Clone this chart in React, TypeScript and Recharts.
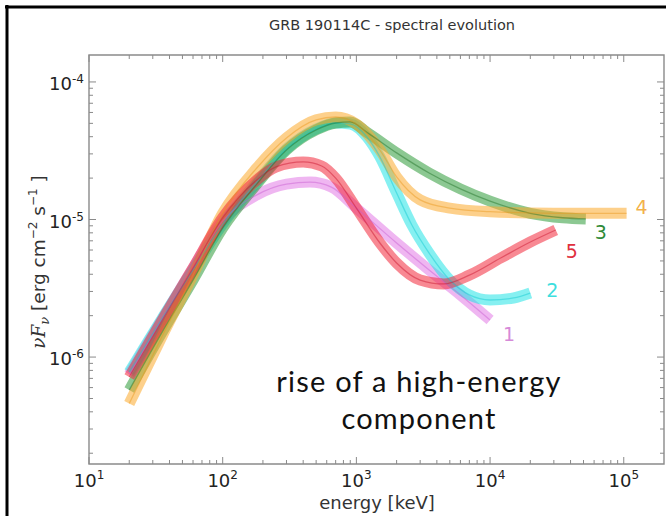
import { LineChart, Line, XAxis, YAxis, ReferenceArea } from "recharts";

// energy [keV] and nuFnu [erg cm^-2 s^-1], one pair of arrays per interval
const energy1 = [20, 35, 60, 100, 180, 300, 450, 650, 1000, 2000, 3500, 6000, 10000];
const flux1 = [7.5e-7, 1.86e-6, 4.43e-6, 9.75e-6, 1.51e-5, 1.81e-5, 1.87e-5, 1.72e-5, 1.21e-5, 6.75e-6, 4.3e-6, 2.83e-6, 1.86e-6];

const energy2 = [20, 35, 60, 100, 180, 300, 500, 700, 900, 1200, 1500, 2000, 2600, 3500, 5000, 7000, 10000, 15000, 20000];
const flux2 = [7.78e-7, 1.89e-6, 4.3e-6, 9.27e-6, 1.87e-5, 3.26e-5, 4.55e-5, 5.03e-5, 4.95e-5, 3.98e-5, 2.85e-5, 1.56e-5, 9.12e-6, 5.7e-6, 3.63e-6, 2.83e-6, 2.6e-6, 2.69e-6, 2.92e-6];

const energy3 = [20, 35, 60, 100, 180, 300, 500, 700, 900, 1200, 2000, 3500, 6000, 10000, 20000, 35000, 52000];
const flux3 = [5.76e-7, 1.5e-6, 3.63e-6, 8.68e-6, 1.81e-5, 3.2e-5, 4.48e-5, 5.03e-5, 5.12e-5, 4.3e-5, 3.05e-5, 2.18e-5, 1.67e-5, 1.36e-5, 1.11e-5, 1.03e-5, 1.01e-5];

const energy4 = [20, 35, 60, 100, 180, 300, 500, 700, 1000, 1500, 2000, 3000, 5000, 10000, 30000, 105000];
const flux4 = [4.6e-7, 1.4e-6, 3.94e-6, 1.11e-5, 2.37e-5, 3.92e-5, 5.3e-5, 5.56e-5, 4.95e-5, 3.2e-5, 2.04e-5, 1.39e-5, 1.21e-5, 1.14e-5, 1.11e-5, 1.11e-5];

const energy5 = [20, 35, 60, 100, 180, 250, 400, 550, 700, 1000, 1500, 2000, 3000, 4500, 7000, 12000, 20000, 31000];
const flux5 = [7.16e-7, 1.83e-6, 4.43e-6, 1.03e-5, 1.94e-5, 2.41e-5, 2.62e-5, 2.45e-5, 2.0e-5, 1.21e-5, 6.75e-6, 4.83e-6, 3.63e-6, 3.4e-6, 3.94e-6, 5.25e-6, 6.86e-6, 8.39e-6];

const xMajor = [10, 100, 1000, 10000, 100000];
const xExp = ["1", "2", "3", "4", "5"];
const yMajor = [1e-6, 1e-5, 1e-4];
const yExp = ["-6", "-5", "-4"];

const X_DOMAIN = [10, 200000];
const Y_DOMAIN = [1.67e-7, 1.57e-4];

// plot box in page pixels (used for the inward ticks on all four sides)
const PT = 55;
const PB = 464;
const PL = 89;
const PR = 664;

const zip = (e: number[], f: number[]) => e.map((v, i) => ({ e: v, f: f[i] }));

const minors = (majors: number[], lo: number, hi: number) => {
  const out: number[] = [];
  majors.concat([majors[0] / 10]).forEach((m) => {
    for (let k = 2; k <= 9; k++) {
      const v = m * k;
      if (v > lo && v < hi) out.push(v);
    }
  });
  return out;
};

const xTicks = [...xMajor, ...minors(xMajor, X_DOMAIN[0], X_DOMAIN[1])].sort((a, b) => a - b);
const yTicks = [...yMajor, ...minors(yMajor, Y_DOMAIN[0], Y_DOMAIN[1])].sort((a, b) => a - b);

const series = [
  { name: "1", data: zip(energy1, flux1), band: "#e27ae6", core: "#c85ad0", text: "#d68ad8", dx: 19, dy: 21 },
  { name: "2", data: zip(energy2, flux2), band: "#22e4e6", core: "#10c8d0", text: "#3edede", dx: 22, dy: 4 },
  { name: "3", data: zip(energy3, flux3), band: "#2e9a38", core: "#1c6e24", text: "#2f8a38", dx: 15, dy: 20 },
  { name: "4", data: zip(energy4, flux4), band: "#fbaa2c", core: "#e8961a", text: "#f2b24a", dx: 15, dy: 1 },
  { name: "5", data: zip(energy5, flux5), band: "#f2283a", core: "#c8102a", text: "#e0303e", dx: 16, dy: 28 },
];

const FONT = "'DejaVu Sans', sans-serif";

const XTick = ({ x, payload }: any) => {
  const i = xMajor.indexOf(payload.value);
  const len = i >= 0 ? 7 : 4;
  return (
    <g>
      <line x1={x} x2={x} y1={PB} y2={PB - len} stroke="#8a8a8a" />
      <line x1={x} x2={x} y1={PT} y2={PT + len} stroke="#8a8a8a" />
      {i >= 0 && (
        <text x={x} y={487} textAnchor="middle" fontFamily={FONT} fontSize={18} fill="#222">
          10
          <tspan dy={-8} fontSize={12}>
            {xExp[i]}
          </tspan>
        </text>
      )}
    </g>
  );
};

const YTick = ({ y, payload }: any) => {
  const i = yMajor.indexOf(payload.value);
  const len = i >= 0 ? 7 : 4;
  return (
    <g>
      <line x1={PL} x2={PL + len} y1={y} y2={y} stroke="#8a8a8a" />
      <line x1={PR} x2={PR - len} y1={y} y2={y} stroke="#8a8a8a" />
      {i >= 0 && (
        <text x={72} y={y + 8} textAnchor="end" fontFamily={FONT} fontSize={18} fill="#222">
          10
        </text>
      )}
      {i >= 0 && (
        <text x={72} y={y + 1} textAnchor="start" fontFamily={FONT} fontSize={12} fill="#222">
          {yExp[i]}
        </text>
      )}
    </g>
  );
};

const endLabel = (s: (typeof series)[number]) => (props: any) => {
  if (props.index !== s.data.length - 1) return <g />;
  return (
    <text x={props.x + s.dx} y={props.y + s.dy} fontFamily={FONT} fontSize={19} fill={s.text} textAnchor="middle">
      {s.name}
    </text>
  );
};

export default function App() {
  return (
    <div style={{ position: "absolute", left: 0, top: 0, width: 666, height: 516, background: "#fff" }}>
      <LineChart width={666} height={516} margin={{ top: PT, right: 666 - PR, bottom: 516 - PB - 40, left: PL - 60 }}>
        <XAxis
          dataKey="e"
          type="number"
          scale="log"
          domain={X_DOMAIN}
          allowDataOverflow
          ticks={xTicks}
          interval={0}
          axisLine={false}
          tickLine={false}
          tick={<XTick />}
          height={40}
        />
        <YAxis
          dataKey="f"
          type="number"
          scale="log"
          domain={Y_DOMAIN}
          allowDataOverflow
          ticks={yTicks}
          interval={0}
          axisLine={false}
          tickLine={false}
          tick={<YTick />}
          width={60}
        />
        <ReferenceArea x1={X_DOMAIN[0]} x2={X_DOMAIN[1]} y1={Y_DOMAIN[0]} y2={Y_DOMAIN[1]} fill="none" stroke="#8a8a8a" strokeWidth={1.4} ifOverflow="visible" />
        {series.map((s) => (
          <Line
            key={"b" + s.name}
            data={s.data}
            dataKey="f"
            type="monotone"
            stroke={s.band}
            strokeOpacity={0.55}
            strokeWidth={11}
            dot={false}
            activeDot={false}
            isAnimationActive={false}
            label={endLabel(s)}
          />
        ))}
        {series.map((s) => (
          <Line
            key={"c" + s.name}
            data={s.data}
            dataKey="f"
            type="monotone"
            stroke={s.core}
            strokeOpacity={0.45}
            strokeWidth={1.3}
            dot={false}
            activeDot={false}
            isAnimationActive={false}
          />
        ))}
        <text x={392} y={30} textAnchor="middle" fontFamily={FONT} fontSize={14.5} fill="#333">
          GRB 190114C - spectral evolution
        </text>
        <text x={377} y={509} textAnchor="middle" fontFamily={FONT} fontSize={18} fill="#333">
          energy [keV]
        </text>
        <text x={45} y={262} transform="rotate(-90 45 262)" textAnchor="middle" fontFamily={FONT} fontSize={18.5} fill="#333">
          <tspan fontStyle="italic" fontFamily="'DejaVu Serif', serif">νF</tspan>
          <tspan fontStyle="italic" fontFamily="'DejaVu Serif', serif" fontSize={13} dy={4}>ν</tspan>
          <tspan dy={-4}> [erg cm</tspan>
          <tspan fontSize={12} dy={-8}>−2</tspan>
          <tspan dy={8}> s</tspan>
          <tspan fontSize={12} dy={-8}>−1</tspan>
          <tspan dy={8}> ]</tspan>
        </text>
        <text x={419} y={392} textAnchor="middle" fontFamily="Lato, 'Open Sans', sans-serif" fontSize={29} letterSpacing={1.2} fill="#111">
          rise of a high-energy
        </text>
        <text x={419} y={429} textAnchor="middle" fontFamily="Lato, 'Open Sans', sans-serif" fontSize={29} letterSpacing={1.2} fill="#111">
          component
        </text>
        <line x1={7} x2={7} y1={5} y2={516} stroke="#000" strokeWidth={3} />
        <line x1={5} x2={666} y1={7} y2={7} stroke="#000" strokeWidth={3} />
      </LineChart>
    </div>
  );
}
